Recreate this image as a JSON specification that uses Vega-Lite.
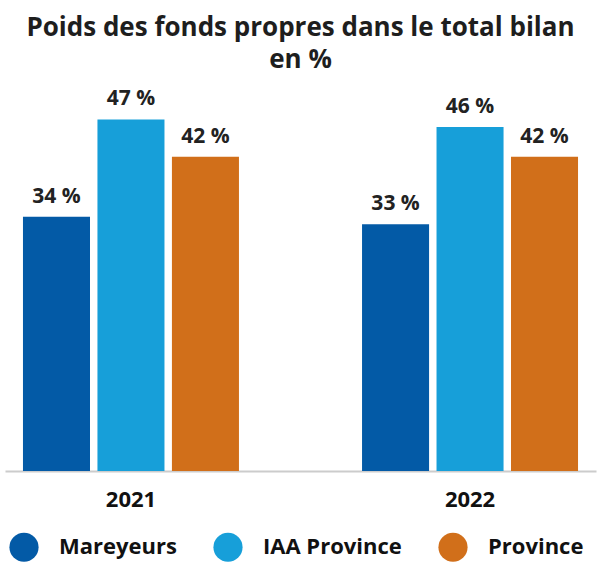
{
  "$schema": "https://vega.github.io/schema/vega-lite/v6.json",
  "width": 591,
  "height": 374,
  "autosize": "none",
  "padding": {"left": 5, "top": 97, "right": 6, "bottom": 91},
  "background": "white",
  "title": {
    "text": ["Poids des fonds propres dans le total bilan", "en %"],
    "anchor": "middle",
    "font": "Open Sans",
    "fontSize": 26,
    "fontWeight": "bold",
    "color": "#1e1e1e",
    "offset": 15,
    "lineHeight": 32
  },
  "config": {"view": {"stroke": null}},
  "data": {
    "values": [
      {"year": "2021", "series": "Mareyeurs", "value": 34, "label": "34 %"},
      {"year": "2021", "series": "IAA Province", "value": 47, "label": "47 %"},
      {"year": "2021", "series": "Province", "value": 42, "label": "42 %"},
      {"year": "2022", "series": "Mareyeurs", "value": 33, "label": "33 %"},
      {"year": "2022", "series": "IAA Province", "value": 46, "label": "46 %"},
      {"year": "2022", "series": "Province", "value": 42, "label": "42 %"}
    ]
  },
  "encoding": {
    "x": {
      "field": "year",
      "type": "nominal",
      "scale": {"paddingInner": 0.363, "paddingOuter": 0.053},
      "axis": {
        "title": null,
        "labelAngle": 0,
        "labelFont": "Open Sans",
        "labelFontSize": 22,
        "labelFontWeight": "bold",
        "labelColor": "#111",
        "ticks": false,
        "domainColor": "#cccccc",
        "domainWidth": 2,
        "labelPadding": 18
      }
    },
    "xOffset": {
      "field": "series",
      "type": "nominal",
      "sort": ["Mareyeurs", "IAA Province", "Province"],
      "scale": {"paddingInner": 0.1, "paddingOuter": 0}
    },
    "y": {
      "field": "value",
      "type": "quantitative",
      "scale": {"domain": [0, 50]},
      "axis": null
    }
  },
  "layer": [
    {
      "mark": {"type": "bar"},
      "encoding": {
        "color": {
          "field": "series",
          "type": "nominal",
          "sort": ["Mareyeurs", "IAA Province", "Province"],
          "scale": {
            "domain": ["Mareyeurs", "IAA Province", "Province"],
            "range": ["#035AA6", "#179FD9", "#D16F1A"]
          },
          "legend": {
            "title": null,
            "orient": "none",
            "direction": "horizontal",
            "legendX": 4,
            "legendY": 435,
            "symbolType": "circle",
            "symbolSize": 850,
            "symbolStrokeWidth": 0,
            "labelFont": "Open Sans",
            "labelFontSize": 22,
            "labelFontWeight": "bold",
            "labelColor": "#111",
            "labelOffset": 20,
            "columnPadding": 36,
            "padding": 0
          }
        }
      }
    },
    {
      "mark": {
        "type": "text",
        "baseline": "alphabetic",
        "dy": -14,
        "font": "Open Sans",
        "fontSize": 21,
        "fontWeight": "bold",
        "color": "#222"
      },
      "encoding": {
        "text": {"field": "label", "type": "nominal"}
      }
    }
  ]
}
